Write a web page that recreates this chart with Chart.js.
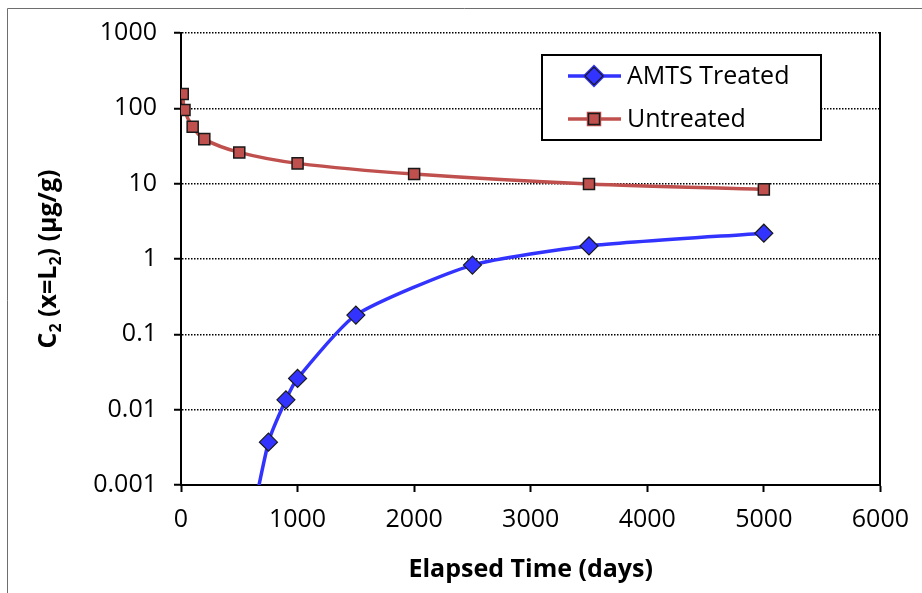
<!DOCTYPE html>
<html>
<head>
<meta charset="utf-8">
<script src="https://cdn.jsdelivr.net/npm/chart.js"></script>
<style>
  html, body { margin: 0; padding: 0; background: #fff; }
  #wrap { width: 922px; height: 593px; position: relative; }
</style>
</head>
<body>
<div id="wrap"><canvas id="c2chart"></canvas></div>
<script>
// values: elapsed time (days) and C2 at x=L2 (ug/g)
const daysUntreated = [15, 30, 100, 200, 500, 1000, 2000, 3500, 5000];
const untreated = [155, 95, 57, 39, 26, 18.6, 13.4, 9.9, 8.4];
const daysTreated = [500, 750, 900, 1000, 1500, 2500, 3500, 5000];
const treated = [0.00005, 0.0037, 0.0135, 0.026, 0.18, 0.83, 1.49, 2.2];
const yTicks = [0.001, 0.01, 0.1, 1, 10, 100, 1000];
const seriesNames = ['AMTS Treated', 'Untreated'];
// y title pieces, second item true = subscript
const yTitleParts = [['C', false], ['2', true], [' (x=L', false], ['2', true], [') (\u00b5g/g)', false]];

const FONT = '"Open Sans", "DejaVu Sans", sans-serif';

function toPoints(xs, ys) {
  return xs.map((x, i) => ({ x: x, y: ys[i] }));
}

// grey frame round the whole chart (left + top only, the rest is cut off)
const frame = {
  id: 'frame',
  beforeDraw(chart) {
    const ctx = chart.ctx;
    ctx.save();
    ctx.strokeStyle = '#6e6e6e';
    ctx.lineWidth = 1;
    ctx.beginPath();
    ctx.moveTo(7.5, 593);
    ctx.lineTo(7.5, 8.5);
    ctx.lineTo(922, 8.5);
    ctx.stroke();
    ctx.restore();
  }
};

// rotated y title with real subscripts
const yTitle = {
  id: 'yTitle',
  afterDraw(chart) {
    const a = chart.chartArea;
    const ctx = chart.ctx;
    const big = 'bold 25px ' + FONT;
    const small = 'bold 16px ' + FONT;
    let total = 0;
    yTitleParts.forEach(p => {
      ctx.font = p[1] ? small : big;
      total += ctx.measureText(p[0]).width;
    });
    ctx.save();
    ctx.translate(49, (a.top + a.bottom) / 2);
    ctx.rotate(-Math.PI / 2);
    ctx.textBaseline = 'middle';
    ctx.textAlign = 'left';
    ctx.fillStyle = '#000';
    let x = -total / 2;
    yTitleParts.forEach(p => {
      ctx.font = p[1] ? small : big;
      ctx.fillText(p[0], x, p[1] ? 7 : 0);
      x += ctx.measureText(p[0]).width;
    });
    ctx.restore();
  }
};

// legend drawn inside the plot with a box, like the excel one
const boxLegend = {
  id: 'boxLegend',
  afterDraw(chart) {
    const ctx = chart.ctx;
    ctx.save();
    ctx.fillStyle = '#fff';
    ctx.fillRect(542, 55, 279, 85);
    ctx.lineWidth = 2;
    ctx.strokeStyle = '#000';
    ctx.strokeRect(542, 55, 279, 85);
    chart.data.datasets.forEach((ds, i) => {
      const y = 76 + i * 43;
      ctx.strokeStyle = ds.borderColor;
      ctx.lineWidth = ds.borderWidth;
      ctx.beginPath();
      ctx.moveTo(568, y);
      ctx.lineTo(621, y);
      ctx.stroke();
      Chart.helpers.drawPoint(ctx, {
        pointStyle: ds.pointStyle,
        radius: ds.pointRadius,
        rotation: 0,
        borderWidth: ds.pointBorderWidth
      }, 594, y);
      ctx.fillStyle = ds.pointBackgroundColor;
      ctx.strokeStyle = ds.pointBorderColor;
      ctx.lineWidth = ds.pointBorderWidth;
      ctx.fill();
      ctx.stroke();
      ctx.fillStyle = '#000';
      ctx.font = '25px ' + FONT;
      ctx.textBaseline = 'middle';
      ctx.textAlign = 'left';
      ctx.fillText(ds.label, 627, y + 1);
    });
    ctx.restore();
  }
};

const ctx = document.getElementById('c2chart');
new Chart(ctx, {
  type: 'line',
  data: {
    datasets: [
      {
        label: seriesNames[0],
        data: toPoints(daysTreated, treated),
        borderColor: '#3333ff',
        borderWidth: 3.5,
        pointStyle: 'rectRot',
        pointRadius: 9,
        pointBackgroundColor: '#3333ff',
        pointBorderColor: '#1a1a1a',
        pointBorderWidth: 1.2,
        tension: 0.2
      },
      {
        label: seriesNames[1],
        data: toPoints(daysUntreated, untreated),
        borderColor: '#c0504d',
        borderWidth: 3.5,
        pointStyle: 'rect',
        pointRadius: 7.8,
        pointBackgroundColor: '#c0504d',
        pointBorderColor: '#1a1a1a',
        pointBorderWidth: 1.5,
        tension: 0.3
      }
    ]
  },
  options: {
    responsive: true,
    maintainAspectRatio: false,
    animation: false,
    layout: { padding: { top: 33, right: 41, left: 0, bottom: 0 } },
    elements: { line: { capBezierPoints: false } },
    plugins: {
      legend: { display: false },
      tooltip: { enabled: false }
    },
    scales: {
      x: {
        type: 'linear',
        min: 0,
        max: 6000,
        ticks: {
          stepSize: 1000,
          color: '#000',
          font: { family: FONT, size: 25 },
          padding: 13,
          maxRotation: 0,
          callback: (v) => String(v)
        },
        grid: { drawOnChartArea: false, drawTicks: true, tickLength: 7, tickColor: '#000', tickWidth: 2 },
        border: { color: '#000', width: 2 },
        title: {
          display: true,
          text: 'Elapsed Time (days)',
          color: '#000',
          font: { family: FONT, size: 25, weight: 'bold' },
          padding: { top: 0, bottom: 8 }
        },
        afterFit: (s) => { s.height = 108; }
      },
      y: {
        type: 'logarithmic',
        min: 0.001,
        max: 1000,
        afterBuildTicks: (s) => { s.ticks = yTicks.map(v => ({ value: v })); },
        ticks: {
          color: '#000',
          font: { family: FONT, size: 25 },
          padding: 17,
          callback: (v) => String(v)
        },
        grid: { color: '#000', lineWidth: 1.5, tickLength: 7, tickColor: '#000', tickWidth: 2, tickBorderDash: [] },
        border: { color: '#000', width: 2, dash: [1.5, 1.5] },
        title: { display: false },
        afterFit: (s) => { s.width = 181; }
      },
      yRight: {
        type: 'linear',
        position: 'right',
        min: 0,
        max: 1,
        ticks: { display: false },
        grid: { display: false, drawTicks: false },
        border: { color: '#000', width: 2 },
        afterFit: (s) => { s.width = 0; }
      }
    }
  },
  plugins: [frame, yTitle, boxLegend]
});
</script>
</body>
</html>
